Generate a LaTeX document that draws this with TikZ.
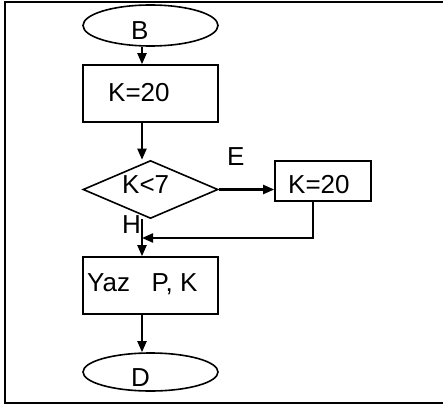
\documentclass[tikz,border=0pt]{standalone}
\usepackage{fontspec}
\setmainfont{Liberation Sans}
\usetikzlibrary{shapes.geometric,calc,arrows.meta}
\tikzset{x=1pt, y=-1pt,
  term/.style={draw=black, line width=1.6pt, ellipse, minimum width=135pt,
         minimum height=41pt, inner sep=0pt},
  proc/.style={draw=black, line width=1.6pt, rectangle, inner sep=0pt},
  test/.style={draw=black, line width=1.6pt, diamond, minimum width=135pt,
         minimum height=58pt, inner sep=0pt},
  lbl/.style={anchor=base west, inner sep=0pt, font=\fontsize{26}{30}\selectfont},
  flow/.style={line width=2.1pt, -{Triangle[length=11pt,width=9pt]}},
  frame/.style={line width=2.2pt}
}

\begin{document}
\begin{tikzpicture}
\useasboundingbox (0,0) rectangle (443,406);
\draw[frame] (460,2) -- (5,2) -- (5,403) -- (460,403);

% shapes
\node[term] (B) at (150.5,25.5) {};
\node[proc, minimum width=135pt, minimum height=57pt] (k1) at (150.5,93.5) {};
\node[test] (cond) at (150.5,189.5) {};
\node[proc, minimum width=96pt, minimum height=40pt] (k2) at (323,181) {};
\node[proc, minimum width=135pt, minimum height=57pt] (yaz) at (150.5,285.5) {};
\node[term, minimum height=38pt] (D) at (150.5,372) {};

% texts
\node[lbl] (tB) at (131,39.5) {B};
\node[lbl] (tk1) at (108,101.5) {K=20};
\node[lbl] (tcond) at (122,193) {K<7};
\node[lbl] (tE) at (227,165) {E};
\node[lbl] (tk2) at (288,193.3) {K=20};
\node[lbl] (tH) at (122,233) {H};
\node[lbl] (tyaz) at (87,291.7) {Yaz\ \ \ P, K};
\node[lbl] (tD) at (131,386) {D};

% connectors
\coordinate (axis) at (142,0);
\coordinate (merge) at (142,238);
\draw[flow] (B.south -| axis) -- (k1.north -| axis);
\draw[flow] (k1.south -| axis) -- (cond.north -| axis);
\draw[flow] (cond.east) -- (cond.east -| k2.west);
\draw[flow] ([xshift=-10pt]k2.south) |- (merge);
\draw[flow] (cond.south -| axis) -- (yaz.north -| axis);
\draw[flow] (yaz.south -| axis) -- (D.north -| axis);
\end{tikzpicture}
\end{document}
